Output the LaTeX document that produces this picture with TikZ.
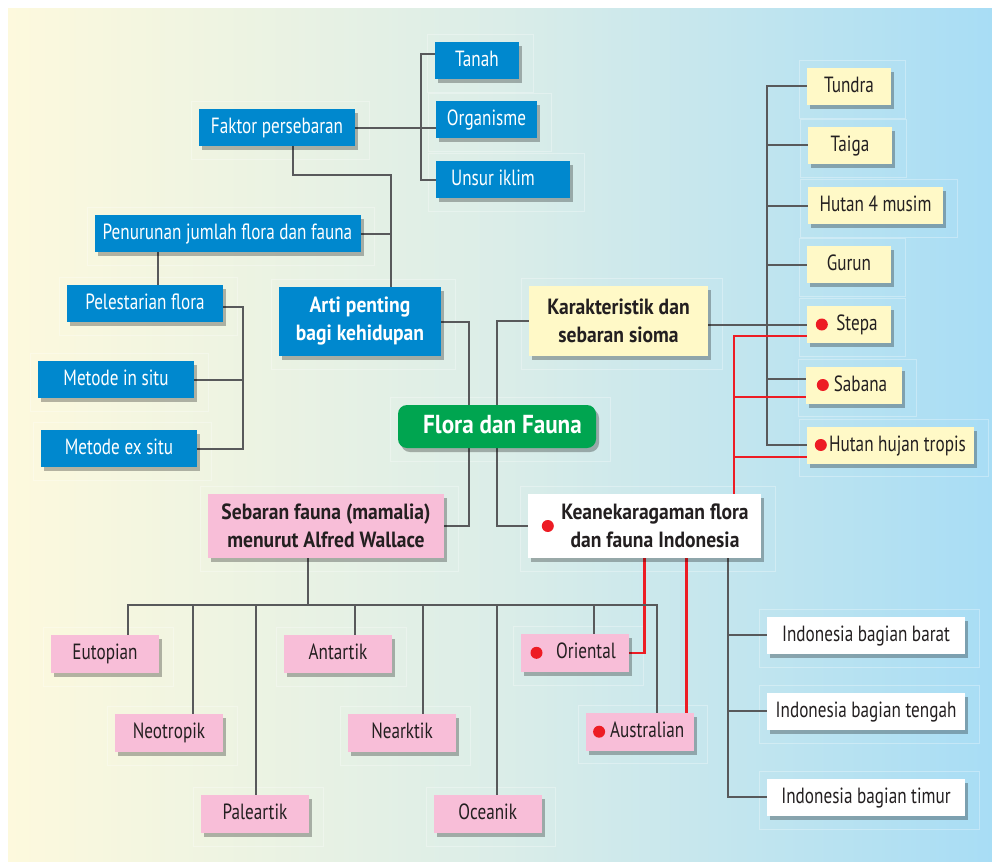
\documentclass[tikz,border=0pt]{standalone}
\usepackage{fontspec}
\setmainfont{PT Sans}[FakeStretch=0.78]
\newfontfamily\bfam{PT Sans}[FakeStretch=0.89]
\usetikzlibrary{shadows,backgrounds,calc}
\definecolor{cBlue}{RGB}{0,136,206}
\definecolor{cGreen}{RGB}{0,165,80}
\definecolor{cPink}{RGB}{248,190,216}
\definecolor{cYellow}{RGB}{255,249,199}
\definecolor{cLine}{RGB}{88,89,91}
\definecolor{cRed}{RGB}{237,28,36}
\definecolor{cText}{RGB}{35,31,32}
\definecolor{bgL}{RGB}{253,249,221}
\definecolor{bgM}{RGB}{219,237,232}
\definecolor{bgR}{RGB}{168,221,245}
\pgfdeclarehorizontalshading{bgshade}{100bp}{color(0bp)=(bgL); color(25bp)=(bgL); color(50bp)=(bgM); color(75bp)=(bgR); color(100bp)=(bgR)}
\newcommand{\boxfont}{\fontsize{22}{28}\selectfont}
\newcommand{\boldboxfont}{\fontsize{22}{28}\selectfont\bfam\bfseries}
\newcommand{\florafont}{\fontsize{26}{30}\selectfont\bfam\bfseries}
\begin{document}
\begin{tikzpicture}[x=1pt,y=-1pt,
  shad/.style={drop shadow={shadow xshift=3pt,shadow yshift=-4pt,fill=black,opacity=0.28}},
  nbase/.style={inner sep=0pt, font=\boxfont, shad},
  sz/.style 2 args={minimum width=#1pt, minimum height=#2pt},
  one/.style={text height=16pt, text depth=4pt},
  nblue/.style={nbase, one, fill=cBlue, text=white},
  npink/.style={nbase, one, fill=cPink, text=cText},
  nyel/.style={nbase, one, fill=cYellow, text=cText},
  nwht/.style={nbase, one, fill=white, text=cText},
  ntwo/.style={nbase, align=center, font=\boldboxfont},
  conn/.style={draw=cLine, line width=2pt},
  redc/.style={draw=cRed, line width=2.5pt},
  ghost/.style={draw=white, line width=1pt, opacity=0.3}]
\useasboundingbox (0,0) rectangle (992,862);

% ---- blue nodes
\node[nblue, sz={84}{37}]  (tanah)      at (477,60.5)  {Tanah};
\node[nblue, sz={101}{37}] (organisme)  at (486.5,119.5) {Organisme};
\node[nblue, sz={134}{37}] (unsur)      at (503,179.5) {\hspace*{-20pt}Unsur iklim};
\node[nblue, sz={156}{37}] (faktor)     at (277,127.5) {Faktor persebaran};
\node[nblue, sz={266}{37}] (penurunan)  at (227.5,233.5) {Penurunan jumlah flora dan fauna};
\node[nblue, sz={156}{37}] (pelestarian) at (145,303.5) {Pelestarian flora};
\node[nblue, sz={156}{37}] (insitu)     at (116,379.5) {Metode in situ};
\node[nblue, sz={156}{37}] (exsitu)     at (119,448.5) {Metode ex situ};
\node[ntwo, sz={162}{69}, fill=cBlue, text=white] (arti) at (360,321.5) {Arti penting\\bagi kehidupan};

% ---- centre
\node[nbase, sz={198}{43}, fill=cGreen, text=white, rounded corners=9pt, font=\florafont, text height=18pt, text depth=5pt] (flora) at (497,426.5) {\hspace*{11pt}Flora dan Fauna};

\node[ntwo, sz={179}{70}, fill=cYellow, text=cText] (karak) at (618.5,321) {Karakteristik dan\\sebaran sioma};
\node[ntwo, sz={233}{64}, fill=white, text=cText] (keanek) at (644.5,526) {\hspace*{21pt}Keanekaragaman flora\\\hspace*{21pt}dan fauna Indonesia};
\node[ntwo, sz={236}{64}, fill=cPink, text=cText] (sebaran) at (326,526) {Sebaran fauna (mamalia)\\menurut Alfred Wallace};

% ---- yellow biomes
\node[nyel, sz={84}{37}]  (tundra) at (849,86.3)  {Tundra};
\node[nyel, sz={84}{37}]  (taiga)  at (850,145.3) {Taiga};
\node[nyel, sz={135}{37}] (hutanf) at (875.5,205.5) {Hutan 4 musim};
\node[nyel, sz={84}{37}]  (gurun)  at (849,264.5) {Gurun};
\node[nyel, sz={84}{37}]  (stepa)  at (849,324.5) {\hspace*{16pt}Stepa};
\node[nyel, sz={96}{37}]  (sabana) at (854,385)   {\hspace*{13pt}Sabana};
\node[nyel, sz={167}{37}] (hutanh) at (890.5,445) {\hspace*{14pt}Hutan hujan tropis};

% ---- white Indonesia
\node[nwht, sz={198}{37}] (barat)  at (866,635.3) {Indonesia bagian barat};
\node[nwht, sz={198}{37}] (tengah) at (866,711.3) {Indonesia bagian tengah};
\node[nwht, sz={198}{37}] (timur)  at (866,797.3) {Indonesia bagian timur};

% ---- pink regions
\node[npink, sz={108}{38}] (eutopian)   at (105,653.8)   {Eutopian};
\node[npink, sz={108}{38}] (neotropik)  at (169,732.8)   {Neotropik};
\node[npink, sz={108}{38}] (paleartik)  at (255,813.8)   {Paleartik};
\node[npink, sz={108}{38}] (antartik)   at (338,653.8)   {Antartik};
\node[npink, sz={108}{38}] (nearktik)   at (402,732.8)   {Nearktik};
\node[npink, sz={108}{38}] (oceanik)    at (487.7,813.8) {Oceanik};
\node[npink, sz={108}{38}] (oriental)   at (575,652.8)   {\hspace*{22pt}Oriental};
\node[npink, sz={108}{38}] (australian) at (639.7,731.7) {\hspace*{15pt}Australian};

% ---- red dots
\fill[cRed] ([xshift=15pt]stepa.west) circle (6pt);
\fill[cRed] ([xshift=17pt]sabana.west) circle (6pt);
\fill[cRed] ([xshift=14pt]hutanh.west) circle (6pt);
\fill[cRed] ([xshift=20pt]keanek.west) circle (6pt);
\fill[cRed] ([xshift=15.7pt]oriental.west) circle (6pt);
\fill[cRed] ([xshift=13.6pt]australian.west) circle (6pt);

\begin{pgfonlayer}{background}
  \shade[shading=bgshade] (8,8) rectangle (992,861);
  \foreach \n in {tanah,organisme,unsur,faktor,penurunan,pelestarian,insitu,exsitu,arti,flora,karak,keanek,sebaran,tundra,taiga,hutanf,gurun,stepa,sabana,hutanh,barat,tengah,timur,eutopian,neotropik,paleartik,antartik,nearktik,oceanik,oriental,australian}
    \draw[ghost] ([shift={(-7,-7)}]\n.north west) rectangle ([shift={(14,13)}]\n.south east);

  % left blue tree
  \coordinate (fB) at ([xshift=-15pt]organisme.west);
  \draw[conn] ([yshift=6.5pt]tanah.west) -| (fB) |- (unsur.west);
  \draw[conn] (faktor.east) -- (faktor.east -| organisme.west);
  \coordinate (aTop) at ([xshift=31pt]arti.north);
  \draw[conn] ([xshift=16pt]faktor.south) -- ++(0,29) -| (aTop);
  \draw[conn] (penurunan.east) -- (penurunan.east -| aTop);
  \coordinate (pTop) at ([xshift=13pt]pelestarian.north);
  \draw[conn] (pTop) -- (pTop |- penurunan.south);
  \coordinate (brk) at ([xshift=46pt]exsitu.east);
  \draw[conn] ([yshift=-3.5pt]pelestarian.east) -| (brk) -- (exsitu.east);
  \draw[conn] (insitu.east) -- (insitu.east -| brk);

  % centre links
  \draw[conn] (arti.east) -| ([xshift=-28pt]flora.north);
  \draw[conn] ([xshift=-28pt]flora.south) |- (sebaran.east);
  \draw[conn] (karak.west) -| (flora.north);
  \draw[conn] (flora.south) |- (keanek.west);

  % biomes
  \coordinate (gB) at ([xshift=-40pt]tundra.west);
  \draw[conn] (tundra.west) -- (gB) |- (hutanh.west);
  \foreach \n in {taiga,hutanf,gurun} \draw[conn] (\n.west) -- (\n.west -| gB);
  \draw[conn] (karak.east |- stepa.west) -- (stepa.west);
  \coordinate (gSab) at ([yshift=5.7pt]sabana.west);
  \draw[conn] (gSab) -- (gSab -| gB);

  % red links
  \coordinate (rK) at ([xshift=89.5pt]keanek.north);
  \draw[redc] ([yshift=-11.5pt]stepa.west) -| (rK);
  \coordinate (rSab) at ([yshift=-12pt]sabana.west);
  \draw[redc] (rSab) -- (rSab -| rK);
  \coordinate (rHut) at ([yshift=-12pt]hutanh.west);
  \draw[redc] (rHut) -- (rHut -| rK);
  \draw[redc] (keanek.south) |- (oriental.east);
  \coordinate (rA) at ([xshift=42pt]keanek.south);
  \draw[redc] (rA) -- (rA |- australian.north);

  % Indonesia
  \coordinate (kG) at ([xshift=83pt]keanek.south);
  \draw[conn] (kG) |- (timur.west);
  \draw[conn] (barat.west) -- (barat.west -| kG);
  \draw[conn] (tengah.west) -- (tengah.west -| kG);

  % Wallace bus
  \coordinate (sB) at ([xshift=-17.7pt]sebaran.south);
  \coordinate (busY) at (0,605);
  \draw[conn] (sB) -- (sB |- busY);
  \coordinate (eS) at ([xshift=22.7pt]eutopian.north);
  \coordinate (auS) at ([xshift=17pt]australian.north);
  \draw[conn] (eS) |- (auS |- busY) -- (auS);
  \foreach \n/\s in {neotropik/24.3, paleartik/0.7, antartik/17.3, nearktik/21.3, oceanik/8.8, oriental/18.7}{
    \coordinate (tmp) at ([xshift=\s pt]\n.north);
    \draw[conn] (tmp) -- (tmp |- busY);
  }
\end{pgfonlayer}
\end{tikzpicture}
\end{document}
